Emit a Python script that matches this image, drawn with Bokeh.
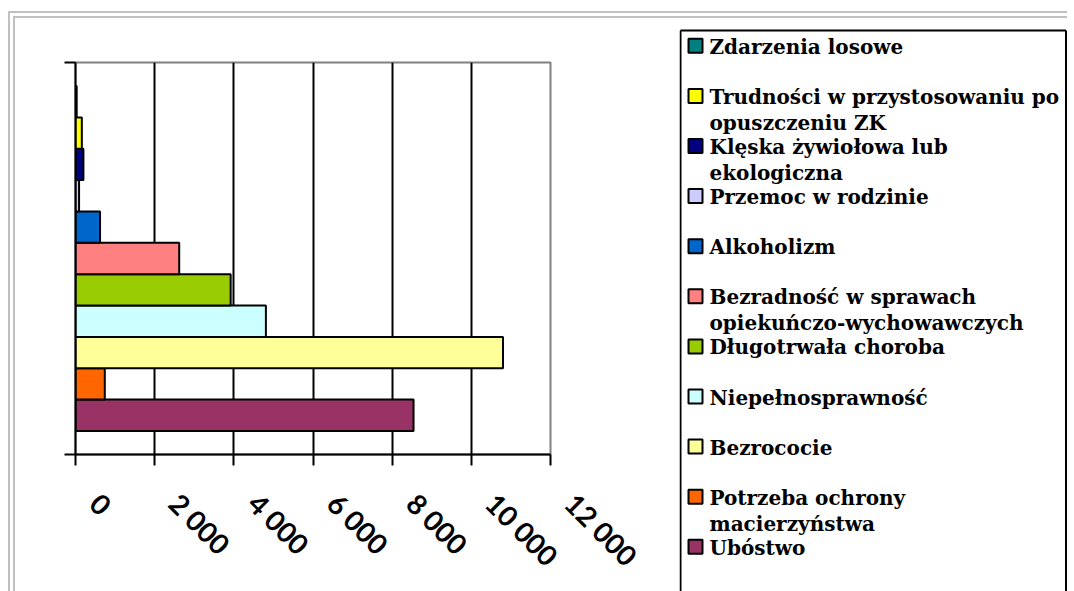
import math
from bokeh.plotting import figure
from bokeh.models import Range1d, FixedTicker, ColumnDataSource
from bokeh.layouts import row, column
from bokeh.embed import file_html
from bokeh.resources import INLINE
from bokeh.core.properties import value

# ---- data (bottom bar first) ----
categories = [
    "Ubóstwo",
    "Potrzeba ochrony\nmacierzyństwa",
    "Bezrococie",
    "Niepełnosprawność",
    "Długotrwała choroba",
    "Bezradność w sprawach\nopiekuńczo-wychowawczych",
    "Alkoholizm",
    "Przemoc w rodzinie",
    "Klęska żywiołowa lub\nekologiczna",
    "Trudności w przystosowaniu po\nopuszczeniu ZK",
    "Zdarzenia losowe",
]
values = [8540, 740, 10800, 4810, 3920, 2620, 620, 90, 200, 160, 30]
colors = ["#993366", "#FF6600", "#FFFF99", "#CCFFFF", "#99CC00", "#FF8080",
          "#0066CC", "#CCCCFF", "#000080", "#FFFF00", "#008080"]
tick_values = [0, 2000, 4000, 6000, 8000, 10000, 12000]
tick_labels = ["0", "2 000", "4 000", "6 000", "8 000", "10 000", "12 000"]

n = len(categories)
gap = 0.75  # half of Excel gap width (150%) in bar-height units
ypos = [gap + i + 0.5 for i in range(n)]
ytop = n + 2 * gap

src = ColumnDataSource(dict(y=ypos, v=values, c=colors, name=categories))

H = 573
p = figure(width=664, height=H, x_range=Range1d(0, 12000),
           y_range=Range1d(0, ytop),
           output_backend="svg", toolbar_location=None,
           min_border_left=60, min_border_right=129,
           min_border_top=44, min_border_bottom=H - 44 - 392)
p.background_fill_color = "white"
p.border_fill_color = "white"
p.outline_line_color = "#808080"
p.outline_line_width = 2

p.hbar(y="y", left=0, right="v", height=1, fill_color="c",
       line_color="black", line_width=2, source=src)

# grid
p.ygrid.visible = False
p.xgrid.ticker = FixedTicker(ticks=tick_values[1:-1])
p.xgrid.grid_line_color = "black"
p.xgrid.grid_line_width = 2

# x axis (labels rotated -45 degrees, pushed along their direction by en-spaces)
lead = "\u2002\u2002"
xa = p.xaxis[0]
xa.ticker = FixedTicker(ticks=tick_values)
xa.major_label_overrides = {v: lead + l for v, l in zip(tick_values, tick_labels)}
xa.major_label_orientation = -math.pi / 4
xa.major_label_text_font = "Lato"
xa.major_label_text_font_style = "bold"
xa.major_label_text_font_size = "28px"
xa.major_label_text_color = "black"
xa.major_label_standoff = 13
xa.axis_line_color = "black"
xa.axis_line_width = 2
xa.major_tick_line_color = "black"
xa.major_tick_line_width = 2
xa.major_tick_out = 11
xa.major_tick_in = 0
xa.minor_tick_line_color = None

# y axis
ya = p.yaxis[0]
ya.ticker = FixedTicker(ticks=[0, ytop])
ya.major_label_overrides = {0: "", ytop: ""}
ya.axis_line_color = "black"
ya.axis_line_width = 2
ya.major_tick_line_color = "black"
ya.major_tick_line_width = 2
ya.major_tick_out = 11
ya.major_tick_in = 0
ya.minor_tick_line_color = None

# ---- legend panel ----
LW, LH = 388, H
leg = figure(width=LW, height=LH, x_range=Range1d(0, LW), y_range=Range1d(LH, 0),
             output_backend="svg", toolbar_location=None, min_border=0,
             x_axis_type=None, y_axis_type=None)
leg.outline_line_color = None
leg.grid.visible = False
leg.background_fill_color = "white"
leg.border_fill_color = "white"

for fig in (p, leg):
    try:
        fig.frame_align = False
    except Exception:
        pass

leg.segment(x0=[1, 1, 386.5], y0=[LH, 12, 12], x1=[1, 386.5, 386.5], y1=[12, 12, LH],
            line_color="black", line_width=2)

order = list(range(n))[::-1]  # top to bottom in legend
sw_x, sw_y, sw_c = [], [], []
tx, ty, tt = [], [], []
for k, i in enumerate(order):
    cy = 27.3 + 50.1 * k
    sw_x.append(16)
    sw_y.append(cy)
    sw_c.append(colors[i])
    for j, line in enumerate(categories[i].split("\n")):
        tx.append(30)
        ty.append(cy + 1 + 26 * j)
        tt.append(line)

leg.rect(x=sw_x, y=sw_y, width=14, height=14, fill_color=sw_c,
         line_color="black", line_width=2)
leg.text(x=tx, y=ty, text=tt, text_font=value("DejaVu Serif"),
         text_font_style="bold", text_font_size="20px",
         text_baseline="alphabetic", text_align="left", text_color="black")

layout = row(p, column(leg), styles={"margin": "11px 0 0 8px",
                                     "border-top": "7px double #c0c0c0",
                                     "border-left": "7px double #c0c0c0"})

open("out.html", "w").write(file_html(layout, INLINE))
